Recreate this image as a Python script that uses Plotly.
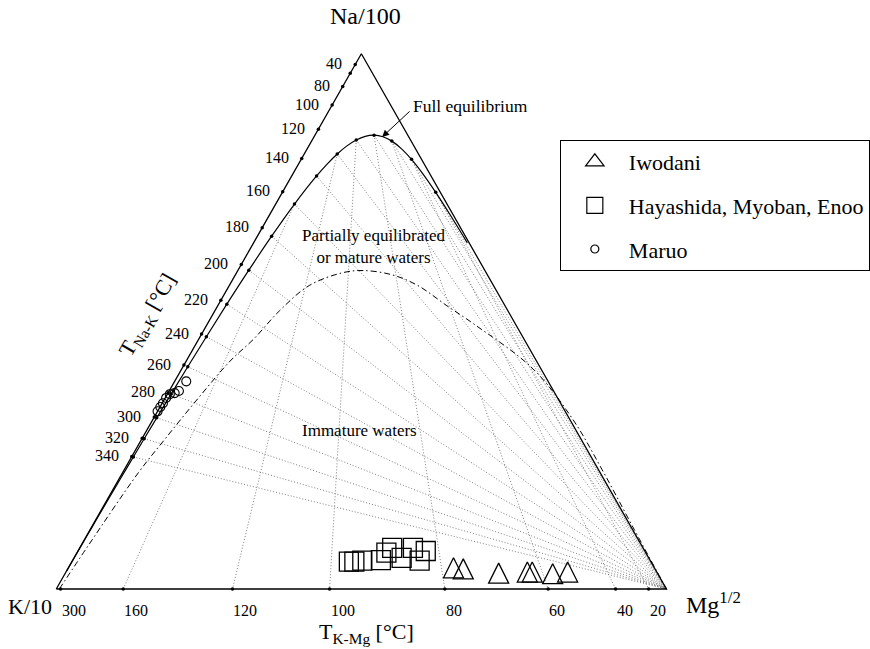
import numpy as np
import plotly.graph_objects as go

FONT = "Liberation Serif"

# ---------------- sample data: normalized ternary fractions ----------------
# components: Na/100, K/10, Mg^1/2  (K fraction = 1 - Na - Mg)
iwodani_na = [0.034, 0.032, 0.024, 0.026, 0.026, 0.023, 0.026]
iwodani_mg = [0.634, 0.651, 0.713, 0.759, 0.767, 0.802, 0.825]

hmy_na = [0.051, 0.051, 0.053, 0.054, 0.068, 0.077, 0.058, 0.077, 0.053, 0.071]
hmy_mg = [0.454, 0.463, 0.475, 0.505, 0.507, 0.512, 0.537, 0.546, 0.569, 0.570]

maruo_na = [0.388, 0.370, 0.366, 0.364, 0.357, 0.347, 0.340, 0.332]
maruo_mg = [0.019, 0.016, 0.011, 0.004, 0.0015, 0.0013, 0.0005, 0.0]

# ---------------- geothermometer scales (deg C) ----------------
nak_tick_temps = [40, 60, 80, 100, 120, 140, 160, 180, 200, 220, 240, 260, 280, 300, 320, 340]
nak_label_temps = [40, 80, 100, 120, 140, 160, 180, 200, 220, 240, 260, 280, 300, 320, 340]
kmg_label_temps = [300, 160, 120, 100, 80, 60, 40, 20]
kmg_line_temps = [160, 120, 100, 80, 60, 40, 20]
nak_line_temps = [20, 40, 60, 80, 100, 120, 140, 160, 180, 200, 220, 240, 260, 280, 300, 320, 340]
eq_tick_temps = [20, 40, 60, 80, 100, 120, 140, 160, 180, 200, 220, 240, 260, 280, 300, 320, 340]
eq_curve_temps = [0, 10, 20, 30, 40, 50, 60, 70, 80, 90, 100, 110, 120, 130, 140, 160, 180,
                  200, 220, 240, 260, 280, 300, 320, 340, 370, 400, 450, 500, 600, 800]

# boundary of immature waters, fractions
immature_na = [0.0, 0.083, 0.218, 0.280, 0.355, 0.426, 0.467, 0.520, 0.567, 0.591, 0.595,
               0.587, 0.567, 0.529, 0.495, 0.411, 0.317, 0.223, 0.120, 0.0]
immature_mg = [0.005, 0.012, 0.026, 0.038, 0.054, 0.072, 0.090, 0.106, 0.131, 0.174, 0.206,
               0.257, 0.309, 0.376, 0.437, 0.576, 0.688, 0.783, 0.883, 1.0]

SQ3 = np.sqrt(3) / 2

W, H = 870, 649
SCALE = 618.0          # pixels per triangle side
K_PX, K_PY = 57, 589   # pixel position of the K/10 corner


def xy(na, k, mg):
    na, k, mg = (np.asarray(v, dtype=float) for v in (na, k, mg))
    s = na + k + mg
    a = na / s
    c = mg / s
    return c + a / 2, a * SQ3


def xy_frac(na_f, mg_f):
    na_f = np.asarray(na_f, dtype=float)
    mg_f = np.asarray(mg_f, dtype=float)
    return xy(na_f, 1 - na_f - mg_f, mg_f)


def na_k(t):
    return 10 ** (1390.0 / (np.asarray(t, dtype=float) + 273.15) - 1.75)


def k2_mg(t):
    return 10 ** (14.0 - 4410.0 / (np.asarray(t, dtype=float) + 273.15))


def side_pt(t):
    r = na_k(t)
    return xy(r / 10, np.ones_like(r), np.zeros_like(r))


def base_pt(t):
    q = k2_mg(t)
    return xy(np.zeros_like(q), np.ones_like(q), 10 / np.sqrt(q))


def eq_pt(t):
    r = na_k(t)
    q = k2_mg(t)
    return xy(r / 10, np.ones_like(r), 10 / np.sqrt(q))


fig = go.Figure()

# grey isotherm lines
gx, gy = [], []
mgx, mgy = xy(0, 0, 1)
ex, ey = eq_pt(nak_line_temps)
for x0, y0 in zip(ex, ey):
    gx += [x0, float(mgx), None]
    gy += [y0, float(mgy), None]
ex, ey = eq_pt(kmg_line_temps)
bx, by = base_pt(kmg_line_temps)
for x0, y0, x1, y1 in zip(ex, ey, bx, by):
    gx += [x0, x1, None]
    gy += [y0, y1, None]
fig.add_trace(go.Scatter(x=gx, y=gy, mode="lines", showlegend=False, hoverinfo="skip",
                         line=dict(color="#707070", width=0.9, dash="1px,2px")))

# immature boundary
ix, iy = xy_frac(immature_na, immature_mg)
fig.add_trace(go.Scatter(x=ix, y=iy, mode="lines", showlegend=False, hoverinfo="skip",
                         line=dict(color="black", width=1, dash="6px,3px,1.5px,3px", shape="spline")))

# triangle
tx, ty = xy([0, 0, 1, 0], [1, 0, 0, 1], [0, 1, 0, 0])
fig.add_trace(go.Scatter(x=tx, y=ty, mode="lines", showlegend=False, hoverinfo="skip",
                         line=dict(color="black", width=1.3)))

# full equilibrium curve
cx, cy = eq_pt(eq_curve_temps)
fig.add_trace(go.Scatter(x=cx, y=cy, mode="lines", showlegend=False, hoverinfo="skip",
                         line=dict(color="black", width=1.2, shape="spline")))

# tick dots
tkx = list(side_pt(nak_tick_temps)[0]) + list(base_pt(kmg_label_temps)[0]) + list(eq_pt(eq_tick_temps)[0])
tky = list(side_pt(nak_tick_temps)[1]) + list(base_pt(kmg_label_temps)[1]) + list(eq_pt(eq_tick_temps)[1])
fig.add_trace(go.Scatter(x=tkx, y=tky, mode="markers", showlegend=False, hoverinfo="skip",
                         marker=dict(color="black", size=3.5, symbol="circle")))

# samples (markers centred on the data point)
x1, y1 = xy_frac(iwodani_na, iwodani_mg)
fig.add_trace(go.Scatter(x=x1, y=y1, mode="markers", name="Iwodani", showlegend=False,
                         marker=dict(symbol="arrow-down-open", angle=180, standoff=13, size=20,
                                     color="black", line=dict(color="black", width=1.3))))
x2, y2 = xy_frac(hmy_na, hmy_mg)
fig.add_trace(go.Scatter(x=x2, y=y2, mode="markers", name="Hayashida, Myoban, Enoo", showlegend=False,
                         marker=dict(symbol="square-open", size=19, color="black",
                                     line=dict(color="black", width=1.3))))
x3, y3 = xy_frac(maruo_na, maruo_mg)
fig.add_trace(go.Scatter(x=x3, y=y3, mode="markers", name="Maruo", showlegend=False,
                         marker=dict(symbol="circle-open", size=9, color="black",
                                     line=dict(color="black", width=1.1))))

# legend entries
for nm, sym, sz, grp in [("Iwodani", "triangle-up-open", 16, "g1"),
                         ("Hayashida, Myoban, Enoo", "square-open", 16, "g2"),
                         ("Maruo", "circle-open", 8, "g3")]:
    fig.add_trace(go.Scatter(x=[None], y=[None], mode="markers", name=nm, legendgroup=grp,
                             marker=dict(symbol=sym, size=sz, color="black",
                                         line=dict(color="black", width=1.2))))

ann = []
# left (Na-K) labels
sx, sy = side_pt(nak_label_temps)
for t, x0, y0 in zip(nak_label_temps, sx, sy):
    ann.append(dict(x=x0, y=y0, xref="x", yref="y", text=str(t), showarrow=False,
                    xanchor="right", yanchor="middle", xshift=-11, yshift=1,
                    font=dict(family=FONT, size=16, color="black")))
# bottom (K-Mg) labels
bx, by = base_pt(kmg_label_temps)
for t, x0, y0 in zip(kmg_label_temps, bx, by):
    ann.append(dict(x=x0, y=y0, xref="x", yref="y", text=str(t), showarrow=False,
                    xanchor="left", yanchor="middle", xshift=-1, yshift=-21,
                    font=dict(family=FONT, size=16, color="black")))


def P(px, py):
    return px / float(W), 1 - py / float(H)


def add_text(px, py, text, size, xanchor="center", angle=0):
    x, y = P(px, py)
    ann.append(dict(x=x, y=y, xref="paper", yref="paper", text=text, showarrow=False,
                    xanchor=xanchor, yanchor="middle", textangle=angle,
                    font=dict(family=FONT, size=size, color="black")))


add_text(370, 16, "Na/100", 24)
add_text(30, 606, "K/10", 22)
add_text(693, 603, "Mg<sup>1/2</sup>", 24, xanchor="left")
add_text(371, 633, "T<sub>K-Mg</sub> [°C]", 22)
add_text(150, 316, "T<sub>Na-K</sub> [°C]", 22, angle=-60)
add_text(416, 106, "Full equilibrium", 17.5, xanchor="left")
add_text(304, 246, "Partially equilibrated<br>or mature waters", 17, xanchor="left")
add_text(304, 430, "Immature waters", 17, xanchor="left")

# arrow to full equilibrium curve
ann.append(dict(x=(387 - K_PX) / SCALE, y=(K_PY - 137) / SCALE, xref="x", yref="y", text="",
                showarrow=True, ax=29, ay=-27, arrowhead=2, arrowsize=1.4, arrowwidth=1,
                arrowcolor="black"))

lx, ly = P(567, 140)
fig.update_layout(
    width=W, height=H,
    margin=dict(l=0, r=0, t=0, b=0),
    paper_bgcolor="white", plot_bgcolor="white",
    xaxis=dict(visible=False, range=[-K_PX / SCALE, (W - K_PX) / SCALE]),
    yaxis=dict(visible=False, range=[(K_PY - H) / SCALE, K_PY / SCALE]),
    showlegend=True,
    legend=dict(x=lx, y=ly, xanchor="left", yanchor="top",
                bordercolor="black", borderwidth=1, bgcolor="white",
                font=dict(family=FONT, size=22, color="black"),
                itemwidth=58, tracegroupgap=12),
    annotations=ann,
    hovermode=False,
)

fig.write_html("out.html", config={"displayModeBar": False},
               post_script="document.body.style.margin='0px';document.body.style.overflow='hidden';")
